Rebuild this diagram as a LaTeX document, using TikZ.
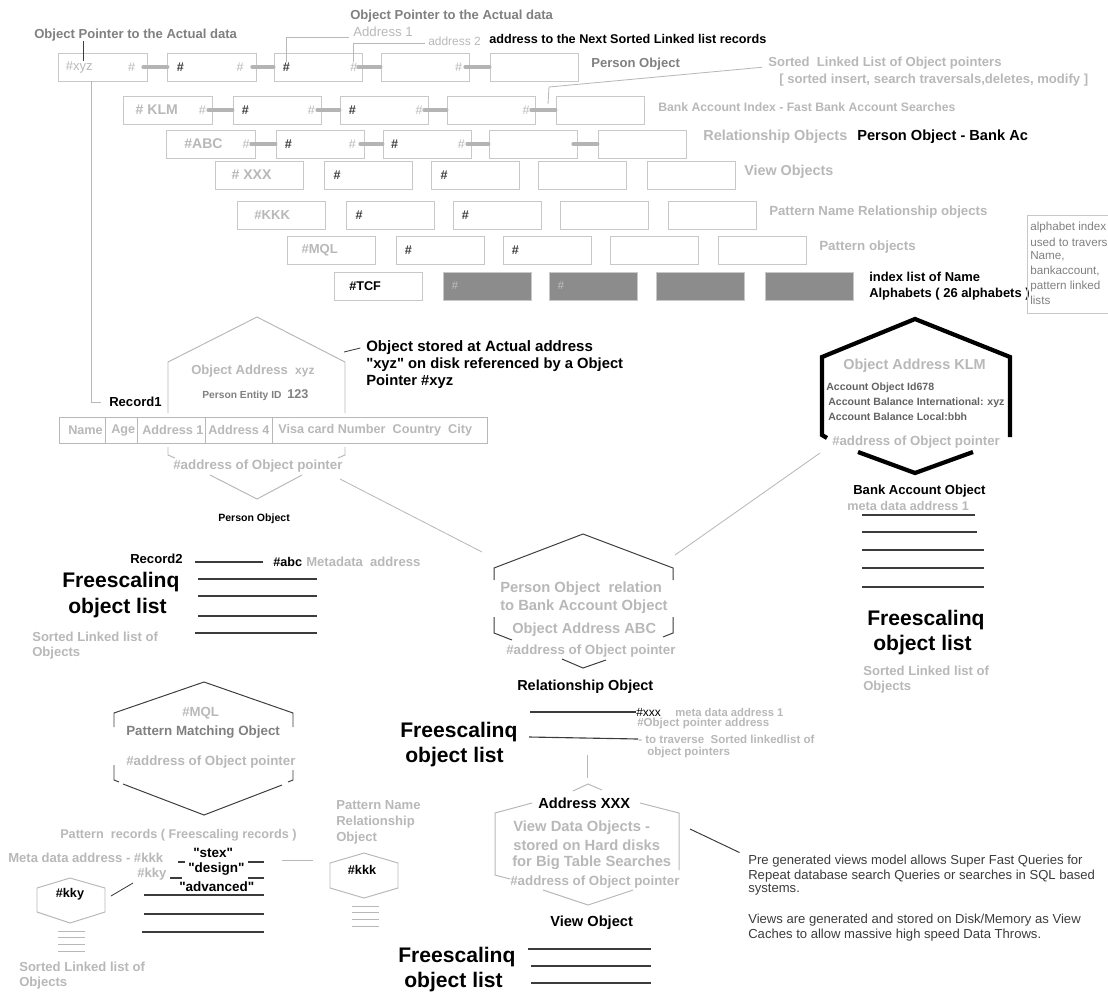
\documentclass[tikz,border=0pt]{standalone}
\usepackage{fontspec}
\setmainfont{Liberation Sans}[Ligatures=TeXOff]
\usetikzlibrary{positioning}

\definecolor{lightg}{HTML}{B8B8B8}
\definecolor{midg}{HTML}{808080}
\definecolor{boxg}{HTML}{C8C8C8}
\definecolor{barg}{HTML}{B4B4B4}
\definecolor{fillg}{HTML}{8C8C8C}
\definecolor{darkg}{HTML}{3C3C3C}

\newcommand{\fs}[1]{\fontsize{#1}{#1}\selectfont}

\tikzset{
  lt/.style={inner sep=0pt, anchor=west, text=lightg, font=\bfseries\fs{9.3}},
  md/.style={lt, text=midg},
  bk/.style={lt, text=black},
  big/.style={bk, font=\bfseries\fs{15}},
  note/.style={lt, text=darkg, font=\fs{9.3}},
  cell/.style={draw=boxg, line width=0.7pt, minimum width=2.2cm, minimum height=0.7cm, inner sep=0pt},
  gcell/.style={cell, fill=fillg},
  hd/.style={inner sep=0pt, anchor=west, text=darkg, font=\bfseries\fs{9}},
  hl/.style={inner sep=0pt, anchor=east, text=lightg, font=\fs{9}},
  bar/.style={draw=barg, line width=2.8pt, line cap=round},
  guide/.style={draw=lightg, line width=0.6pt},
  hexl/.style={draw=lightg, line width=0.7pt},
  hexd/.style={draw=darkg, line width=0.7pt},
  hexk/.style={draw=black, line width=3pt},
  rec/.style={draw=darkg, line width=0.8pt},
}

\begin{document}
\begin{tikzpicture}[x=0.025cm, y=-0.025cm]
    \useasboundingbox (0,0) rectangle (1108,999);

    % Nhan dau trang
    \node[md] (opl) at (34,35) {Object Pointer to the Actual data};
    \node[md] (opu) at (350,16) {Object Pointer to the Actual data};
    \node[lt, font=\fs{9.4}] (ad1) at (353,32) {Address 1};
    \node[lt, font=\fs{8.5}] (ad2) at (428,41) {address 2};
    \node[bk, font=\bfseries\fs{9}] at (489,39) {address to the Next Sorted Linked list records};

    % Hang 1: Person Object
    \foreach \i/\x in {1/103,2/212,3/318,4/425,5/534}
        \node[cell] (a\i) at (\x,67) {};
    \foreach \i/\j in {1/2,2/3,3/4,4/5}
        \draw[bar] ([xshift=-3pt]a\i.east) -- (a\j.west);
    \node[lt, font=\fs{9.3}] (xyz) at ([xshift=5pt]a1.west) {\#xyz};
    \node[hl] at ([xshift=-8.5pt]a1.east) {\#};
    \node[hd] (a2l) at ([xshift=6.5pt]a2.west) {\#};
    \node[hl] at ([xshift=-9pt]a2.east) {\#};
    \node[hd] (a3l) at ([xshift=6.5pt]a3.west) {\#};
    \node[hl] (a3r) at ([xshift=-3.5pt]a3.east) {\#};
    \node[hl] at ([xshift=-5pt]a4.east) {\#};
    \node[md] at (591,64) {Person Object};
    \draw[darkg, line width=0.8pt] ([xshift=3pt]xyz.north) -- ([xshift=3pt]xyz.north |- opl.south);
    \draw[guide] ([xshift=-3pt, yshift=-4pt]ad1.west) -| (a3l.north);
    \draw[guide] ([xshift=-2pt, yshift=-1.5pt]ad2.west) -| (a3r.north);

    % Chu thich danh sach lien ket
    \node[lt] (srt) at (768,63) {Sorted\ \ Linked List of Object pointers};
    \node[lt] at (779,80) {[ sorted insert, search traversals,deletes, modify ]};
    \coordinate (klmbar) at (548,104);
    \draw[guide] ([xshift=-4pt, yshift=-3pt]srt.west) -- (549,87) -- (klmbar);

    % Hang 2: Bank Account Index
    \foreach \i/\x in {1/168,2/277,3/384,4/491,5/600}
        \node[cell] (b\i) at (\x,110) {};
    \foreach \i/\j in {1/2,2/3,3/4,4/5}
        \draw[bar] ([xshift=-3pt]b\i.east) -- (b\j.west);
    \node[lt, font=\bfseries\fs{10}] at ([xshift=8.5pt]b1.west) {\# KLM};
    \node[hl] at ([xshift=-4.5pt]b1.east) {\#};
    \node[hd] at ([xshift=6.5pt]b2.west) {\#};
    \node[hl] at ([xshift=-4.5pt]b2.east) {\#};
    \node[hd] at ([xshift=6.5pt]b3.west) {\#};
    \node[hl] at ([xshift=-4pt]b3.east) {\#};
    \node[hl] at ([xshift=-4pt]b4.east) {\#};
    \node[lt, font=\bfseries\fs{8.7}] at (658,107) {Bank Account Index - Fast Bank Account Searches};

    % Hang 3: Relationship Objects
    \foreach \i/\x in {1/211,2/320,3/427,4/533,5/642}
        \node[cell] (c\i) at (\x,144) {};
    \foreach \i/\j in {1/2,2/3,3/4,4/5}
        \draw[bar] ([xshift=-3pt]c\i.east) -- (c\j.west);
    \node[lt, font=\bfseries\fs{10}] at ([xshift=12.5pt]c1.west) {\#ABC};
    \node[hl] at ([xshift=-4pt]c1.east) {\#};
    \node[hd] at ([xshift=6.5pt]c2.west) {\#};
    \node[hl] at ([xshift=-6pt]c2.east) {\#};
    \node[hd] at ([xshift=6pt]c3.west) {\#};
    \node[hl] at ([xshift=-4.5pt]c3.east) {\#};
    \node[lt, font=\bfseries\fs{10.3}] at (703,137) {Relationship Objects};
    \node[bk, font=\bfseries\fs{10.4}] at (857,137) {Person Object - Bank Ac};

    % Hang 4: View Objects
    \foreach \i/\x in {1/259,2/368,3/475,4/582,5/691}
        \node[cell] (d\i) at (\x,175) {};
    \node[lt, font=\bfseries\fs{10}] at ([xshift=12pt]d1.west) {\# XXX};
    \node[hd] at ([xshift=7pt]d2.west) {\#};
    \node[hd] at ([xshift=7pt]d3.west) {\#};
    \node[lt, font=\bfseries\fs{10.2}] at (744,172) {View Objects};

    % Hang 5: Pattern Name Relationship objects
    \foreach \i/\x in {1/281,2/390,3/497,4/604,5/712}
        \node[cell] (e\i) at (\x,215) {};
    \node[lt, font=\bfseries\fs{9.3}] at ([xshift=12.5pt]e1.west) {\#KKK};
    \node[hd] at ([xshift=7pt]e2.west) {\#};
    \node[hd] at ([xshift=6.5pt]e3.west) {\#};
    \node[lt, font=\bfseries\fs{9.4}] at (769,212) {Pattern Name Relationship objects};

    % Hang 6: Pattern objects
    \foreach \i/\x in {1/331,2/440,3/547,4/654,5/762}
        \node[cell] (f\i) at (\x,250) {};
    \node[lt, font=\bfseries\fs{9.3}] at ([xshift=10.5pt]f1.west) {\#MQL};
    \node[hd] at ([xshift=6.5pt]f2.west) {\#};
    \node[hd] at ([xshift=6.5pt]f3.west) {\#};
    \node[lt, font=\bfseries\fs{9.5}] at (819,247) {Pattern objects};

    % Hang 7: chi muc chu cai
    \node[cell] (g1) at (378,286) {};
    \foreach \i/\x in {2/487,3/593,4/700,5/809}
        \node[gcell] (g\i) at (\x,286) {};
    \node[bk, font=\bfseries\fs{9}] at ([xshift=11pt]g1.west) {\#TCF};
    \node[hd, text=fillg!55!white, font=\fs{8}] at ([xshift=6.5pt]g2.west) {\#};
    \node[hd, text=fillg!55!white, font=\fs{8}] at ([xshift=6.5pt]g3.west) {\#};
    \node[bk, font=\bfseries\fs{9.2}] at (869,277) {index list of Name};
    \node[bk, font=\bfseries\fs{9.2}] at (869,294) {Alphabets ( 26 alphabets )};

    % Hop ghi chu ben phai
    \draw[draw=boxg, line width=0.7pt] (1027,215) rectangle (1125,313);
    \node[note, text=midg, font=\fs{8.3}] at (1030,227) {alphabet index};
    \node[note, text=midg, font=\fs{8.3}] at (1030,242) {used to travers};
    \node[note, text=midg, font=\fs{8.3}] at (1030,256) {Name,};
    \node[note, text=midg, font=\fs{8.3}] at (1030,271) {bankaccount,};
    \node[note, text=midg, font=\fs{8.3}] at (1030,286) {pattern linked};
    \node[note, text=midg, font=\fs{8.3}] at (1030,300) {lists};

    % Person Object (luc giac)
    \node[bk] (rec1) at (109,402) {Record1};
    \draw[guide] ([xshift=-8pt]a1.south) |- ([xshift=-6pt]rec1.west);
    \draw[hexl] (168,413) -- (168,362) -- (257,317) -- (345,362) -- (345,413);
    \draw[hexl] (168,447) -- (168,455) -- (175,458);
    \draw[hexl] (345,447) -- (345,455) -- (338,458);
    \draw[hexl] (210,475) -- (257,499) -- (302,475);
    \node[lt] at (191,371) {Object Address\ \ \fs{8.5}xyz};
    \node[md, font=\bfseries\fs{7.3}] at (202,395) {Person Entity ID\ \ \fs{9}123};
    \draw[hexl] (59,417) rectangle (487,443);
    \foreach \x in {105,137,205,272}
        \draw[hexl] (\x,417) -- (\x,443);
    \node[lt, font=\bfseries\fs{9}] at (68,430) {Name};
    \node[lt, font=\bfseries\fs{9}] at (111,430) {Age};
    \node[lt, font=\bfseries\fs{9}] at (142,430) {Address 1};
    \node[lt, font=\bfseries\fs{9}] at (208,430) {Address 4};
    \node[lt, font=\bfseries\fs{9}] at (278,430) {Visa card Number\ \ Country\ \ City};
    \node[lt, font=\bfseries\fs{9.5}] at (173,466) {\#address of Object pointer};
    \node[bk, font=\bfseries\fs{7.5}] at (218,519) {Person Object};

    % Ghi chu doi tuong luu tren dia
    \node[bk, font=\bfseries\fs{10.7}] (stor) at (366,348) {Object stored at Actual address};
    \node[bk, font=\bfseries\fs{10.5}] at (366,365) {"xyz" on disk referenced by a Object};
    \node[bk, font=\bfseries\fs{10.5}] at (366,382) {Pointer \#xyz};
    \draw[darkg, line width=0.6pt] ([xshift=-4pt]stor.west) -- (344,352);

    % Record2 - danh sach
    \node[bk] (rec2) at (130,559) {Record2};
    \node[bk, font=\bfseries\fs{9}] (abc) at (273,562) {\#abc};
    \node[lt] at (306,562) {Metadata\ \ address};
    \draw[rec] (195,562) -- ([xshift=-7pt]abc.west);
    \draw[rec] (198,579) -- (317,579);
    \draw[rec] (198,596) -- (317,596);
    \draw[rec] (198,616) -- (317,616);
    \draw[rec] (195,633) -- (317,633);
    \node[big] at (62,582) {Freescalinq};
    \node[big] at (68,608) {object list};
    \node[lt] at (32,637) {Sorted Linked list of};
    \node[lt] at (32,653) {Objects};

    % Relationship Object (luc giac giua)
    \draw[guide] (340,479) -- (482,552);
    \draw[guide] (820,453) -- (675,555);
    \draw[hexd] (494,580) -- (494,568) -- (583,534) -- (673,568) -- (673,580);
    \draw[hexd] (494,617) -- (494,633) -- (512,640);
    \draw[hexd] (673,617) -- (673,633) -- (663,637);
    \draw[hexd] (562,659) -- (583,668) -- (606,660);
    \node[lt, font=\bfseries\fs{10.5}] at (500,589) {Person Object\ \ relation};
    \node[lt, font=\bfseries\fs{10.5}] at (500,607) {to Bank Account Object};
    \node[lt, font=\bfseries\fs{10.4}] at (512,630) {Object Address ABC};
    \node[lt, font=\bfseries\fs{9.5}] at (506,651) {\#address of Object pointer};
    \node[bk, font=\bfseries\fs{10.3}] at (517,687) {Relationship Object};
    \node[bk, font=\fs{8.5}] (xxx) at (636,712) {\#xxx};
    \node[lt, font=\bfseries\fs{8}] at (675,712) {meta data address 1};
    \node[lt, font=\bfseries\fs{8.2}] at (637,724) {\#Object pointer address};
    \node[lt, font=\bfseries\fs{8.2}] (trv) at (638,739) {- to traverse\ \ Sorted linkedlist of};
    \node[lt, font=\bfseries\fs{8.2}] at (647,753) {object pointers};
    \draw[rec] (530,712) -- (xxx.west);
    \draw[rec] (529,737) -- (trv.west);
    \node[big] at (400,732) {Freescalinq};
    \node[big] at (405,757) {object list};
    \draw[guide] (587,755) -- (587,778);

    % View Object (luc giac duoi)
    \draw[hexl] (573,791) -- (588,784) -- (602,790);
    \draw[hexl] (532,803) -- (495,813) -- (495,875) -- (510,879);
    \draw[hexl] (640,803) -- (679,813) -- (679,870);
    \draw[hexl] (543,890) -- (588,905) -- (633,890);
    \node[bk, font=\bfseries\fs{10.4}] at (538,803) {Address XXX};
    \node[lt, font=\bfseries\fs{10.5}] at (513,828) {View Data Objects -};
    \node[lt, font=\bfseries\fs{10.5}] at (513,845) {stored on Hard disks};
    \node[lt, font=\bfseries\fs{10.5}] at (512,863) {for Big Table Searches};
    \node[lt, font=\bfseries\fs{9.5}] at (510,882) {\#address of Object pointer};
    \node[bk, font=\bfseries\fs{10.4}] at (550,923) {View Object};
    \draw[rec] (528,949) -- (651,949);
    \draw[rec] (531,966) -- (651,966);
    \draw[rec] (531,983) -- (651,983);
    \node[big] at (398,957) {Freescalinq};
    \node[big] at (404,982) {object list};

    % Ghi chu view
    \node[note] (pre) at (748,861) {Pre generated views model allows Super Fast Queries for};
    \node[note] at (748,876) {Repeat database search Queries or searches in SQL based};
    \node[note] at (748,890) {systems.};
    \node[note] at (748,920) {Views are generated and stored on Disk/Memory as View};
    \node[note] at (748,935) {Caches to allow massive high speed Data Throws.};
    \draw[darkg, line width=0.7pt] (690,829) -- ([xshift=-6pt, yshift=6pt]pre.west);

    % Bank Account Object (luc giac dam)
    \draw[hexk] (827,438) -- (822,435) -- (822,357) -- (915,319) -- (1010,357) -- (1010,437);
    \draw[hexk] (858,452) -- (915,473) -- (973,452);
    \node[lt, font=\bfseries\fs{10.3}] at (843,366) {Object Address KLM};
    \node[md, text=darkg!80, font=\bfseries\fs{7.5}] at (826,388) {Account Object Id678};
    \node[md, text=darkg!80, font=\bfseries\fs{7.5}] at (828,403) {Account Balance International: xyz};
    \node[md, text=darkg!80, font=\bfseries\fs{7.5}] at (828,417) {Account Balance Local:bbh};
    \node[lt, font=\bfseries\fs{9.4}] at (832,442) {\#address of Object pointer};
    \node[bk] at (853,491) {Bank Account Object};
    \node[lt, font=\bfseries\fs{9}] at (847,506) {meta data address 1};
    \draw[rec] (862,515) -- (975,515);
    \draw[rec] (862,532) -- (977,532);
    \draw[rec] (862,550) -- (984,550);
    \draw[rec] (862,568) -- (984,568);
    \draw[rec] (862,587) -- (984,587);
    \node[big] at (867,620) {Freescalinq};
    \node[big] at (873,645) {object list};
    \node[lt] at (863,671) {Sorted Linked list of};
    \node[lt] at (863,687) {Objects};

    % Pattern Matching Object
    \draw[hexd] (114,727) -- (114,713) -- (204,682) -- (293,713) -- (293,727);
    \draw[hexd] (114,765) -- (114,780) -- (119,782);
    \draw[hexd] (293,770) -- (293,780) -- (288,782);
    \draw[hexd] (123,784) -- (204,815) -- (282,785);
    \node[lt, font=\bfseries\fs{9.4}] at (182,713) {\#MQL};
    \node[md, font=\bfseries\fs{9.5}] at (126,732) {Pattern Matching Object};
    \node[lt, font=\bfseries\fs{9.5}] at (126,762) {\#address of Object pointer};

    % Pattern records
    \node[lt, font=\bfseries\fs{9}] at (60,835) {Pattern\ \ records ( Freescaling records )};
    \node[lt] at (8,858) {Meta data address - \#kkk};
    \node[lt] (kkyl) at (137,874) {\#kky};
    \node[bk, font=\bfseries\fs{9.6}] at (193,853) {"stex"};
    \node[bk, font=\bfseries\fs{9.6}] at (188,869) {"design"};
    \node[bk, font=\bfseries\fs{9.6}] at (179,887) {"advanced"};
    \draw[rec] (178,862) -- (185,862);
    \draw[rec] (248,862) -- (264,862);
    \draw[rec] (170,878) -- (182,878);
    \draw[rec] (248,878) -- (264,878);
    \draw[rec] (144,895) -- (264,895);
    \draw[rec] (144,914) -- (264,914);
    \draw[rec] (142,932) -- (264,932);
    \draw[guide] (282,860) -- (313,860);

    % #kky
    \draw[hexl] (70,878) -- (105,888) -- (105,912) -- (70,923) -- (37,912) -- (37,888) -- cycle;
    \node[bk, font=\bfseries\fs{9}, anchor=center] (kky) at (70,894) {\#kky};
    \draw[darkg, line width=0.6pt] (111,896) -- (133,883);
    \foreach \y in {931,937,944,951}
        \draw[guide] (58,\y) -- (85,\y);
    \node[lt] at (19,967) {Sorted Linked list of};
    \node[lt] at (19,983) {Objects};

    % #kkk
    \draw[hexl] (364,853) -- (398,863) -- (398,888) -- (364,898) -- (330,888) -- (330,863) -- cycle;
    \node[bk, font=\bfseries\fs{9}, anchor=center] at (362,870) {\#kkk};
    \foreach \y in {906,912,919,926}
        \draw[guide] (352,\y) -- (379,\y);
    \node[lt] at (336,805) {Pattern Name};
    \node[lt] at (336,822) {Relationship};
    \node[lt] at (336,838) {Object};
\end{tikzpicture}
\end{document}
